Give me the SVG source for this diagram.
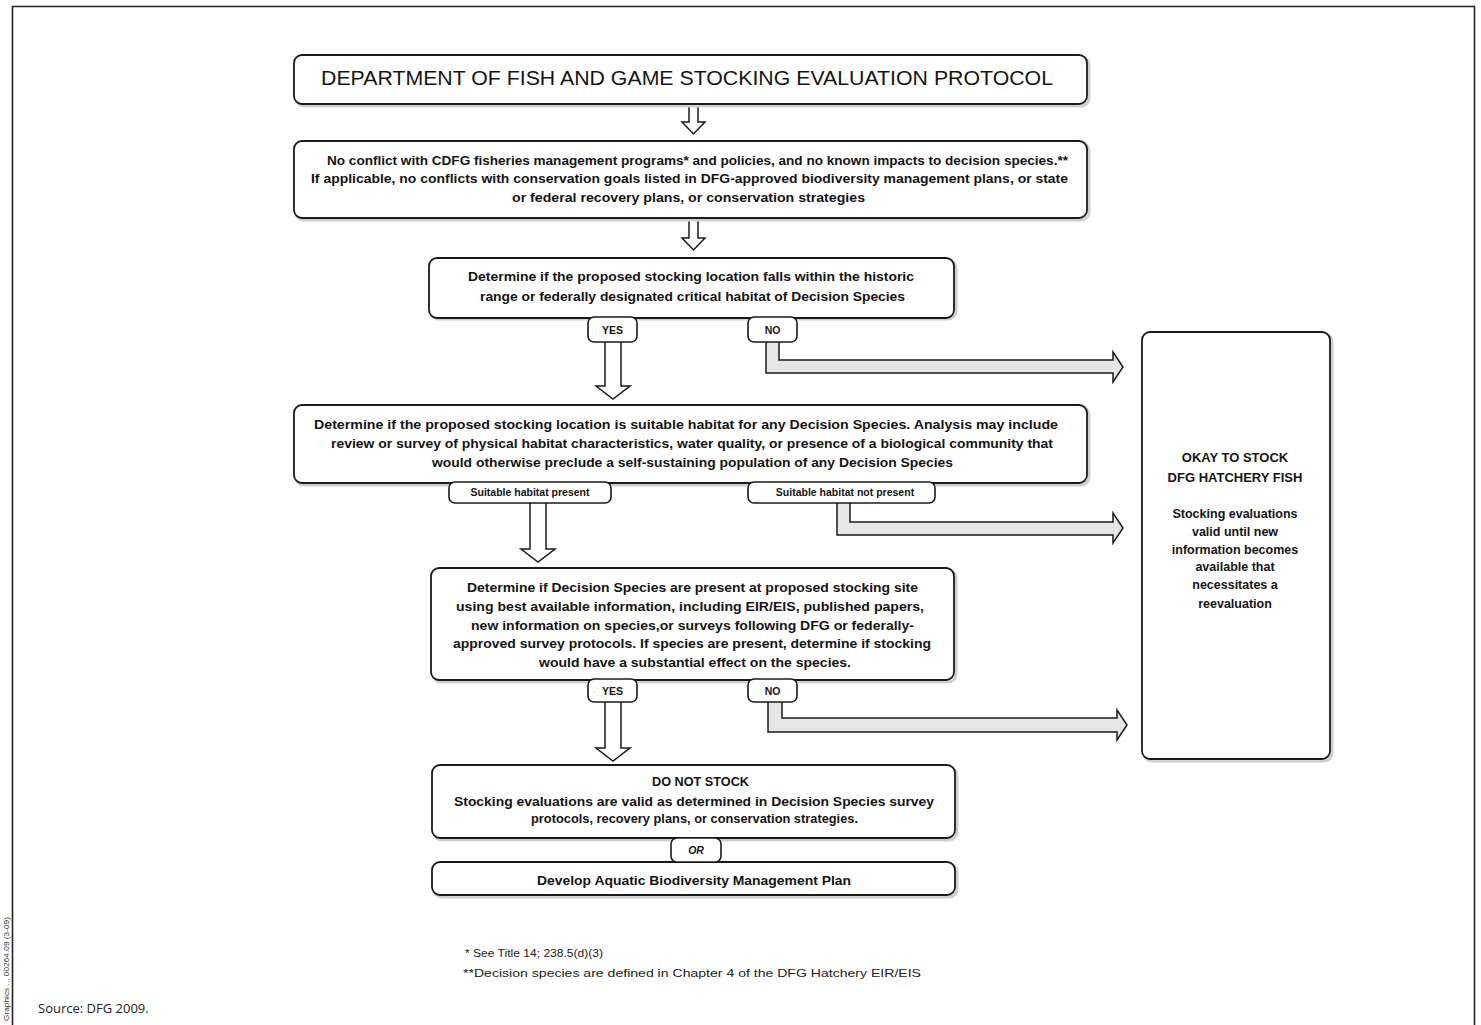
<svg xmlns="http://www.w3.org/2000/svg" width="1481" height="1025" viewBox="0 0 1481 1025">
<style>
.box{fill:#fff;stroke:#1a1a1a;stroke-width:1.8}
.shadow{fill:none;stroke:#cfcfcf;stroke-width:3}
.tab{fill:#fff;stroke:#1a1a1a;stroke-width:1.6}
.t{font-family:"Liberation Sans",Arial,sans-serif;font-weight:bold;font-size:12.5px;fill:#141414;text-anchor:middle}
.tt{font-family:"Liberation Sans",Arial,sans-serif;font-size:20px;fill:#141414;text-anchor:middle}
.tl{font-family:"Liberation Sans",Arial,sans-serif;font-weight:bold;font-size:10.5px;fill:#141414;text-anchor:middle}
.rb{font-family:"Liberation Sans",Arial,sans-serif;font-weight:bold;font-size:13px;fill:#141414;text-anchor:middle}
.fn{font-family:"Liberation Sans",Arial,sans-serif;font-size:11.5px;fill:#222}
.hollow{fill:#fff;stroke:#1a1a1a;stroke-width:1.5;stroke-linejoin:miter}
.gray{fill:#e6e6e6;stroke:#1a1a1a;stroke-width:1.5;stroke-linejoin:miter}
</style>
<rect width="1481" height="1025" fill="#fff"/>
<path d="M12.5,1025 V6.5 H1474.5 V1025" fill="none" stroke="#222" stroke-width="1.6"/>
<text transform="translate(8.5,1021) rotate(-90)" font-family="Liberation Sans,Arial,sans-serif" font-size="6.5" fill="#333" textLength="104" lengthAdjust="spacingAndGlyphs">Graphics ... 00264.09 (3-09)</text>

<g id="connectors">
  <path class="hollow" d="M689,105 V122 H682 L693.5,134 L705,122 H698 V105 Z"/>
  <path class="hollow" d="M689,220 V238 H682 L693.5,250 L705,238 H698 V220 Z"/>
  <path class="hollow" d="M605,341 V386 H596 L613,399 L630,386 H621 V341 Z"/>
  <path class="gray" d="M766,341 V373 H1113 V382 L1123,367 L1113,352 V360 H779 V341 Z"/>
  <path class="hollow" d="M530,502 V549 H521 L538,562 L555,549 H546 V502 Z"/>
  <path class="gray" d="M837,502 V535 H1113 V543 L1123,528 L1113,513 V522 H850 V502 Z"/>
  <path class="hollow" d="M605,701 V748 H596 L613,761 L630,748 H621 V701 Z"/>
  <path class="gray" d="M768,701 V732 H1117 V740 L1127,725 L1117,710 V718 H782 V701 Z"/>
</g>

<g id="title">
  <rect class="shadow" x="296" y="57" width="793" height="49" rx="8"/>
  <rect class="box" x="294" y="55" width="793" height="49" rx="8"/>
  <text class="tt" x="687" y="85" textLength="732" lengthAdjust="spacingAndGlyphs">DEPARTMENT OF FISH AND GAME STOCKING EVALUATION PROTOCOL</text>
</g>

<g id="no-conflict">
  <rect class="shadow" x="296" y="143" width="793" height="77" rx="8"/>
  <rect class="box" x="294" y="141" width="793" height="77" rx="8"/>
  <text class="t" x="697.5" y="164.5" textLength="741" lengthAdjust="spacingAndGlyphs">No conflict with CDFG fisheries management programs* and policies, and no known impacts to decision species.**</text>
  <text class="t" x="689.5" y="183" textLength="757" lengthAdjust="spacingAndGlyphs">If applicable, no conflicts with conservation goals listed in DFG-approved biodiversity management plans, or state</text>
  <text class="t" x="688.5" y="201.5" textLength="353" lengthAdjust="spacingAndGlyphs">or federal recovery plans, or conservation strategies</text>
</g>

<g id="historic-range">
  <rect class="shadow" x="431" y="260" width="525" height="59" rx="8"/>
  <rect class="box" x="429" y="258" width="525" height="60" rx="8"/>
  <text class="t" x="691" y="280.5" textLength="446" lengthAdjust="spacingAndGlyphs">Determine if the proposed stocking location falls within the historic</text>
  <text class="t" x="692.5" y="300.5" textLength="425" lengthAdjust="spacingAndGlyphs">range or federally designated critical habitat of Decision Species</text>
  <rect class="tab" x="588" y="317" width="49" height="25" rx="6"/>
  <text class="tl" x="612.5" y="334">YES</text>
  <rect class="tab" x="748" y="317" width="49" height="25" rx="6"/>
  <text class="tl" x="772.5" y="334">NO</text>
</g>

<g id="suitable-habitat">
  <rect class="shadow" x="296" y="407" width="793" height="78" rx="8"/>
  <rect class="box" x="294" y="405" width="793" height="78" rx="8"/>
  <text class="t" x="686" y="428.5" textLength="744" lengthAdjust="spacingAndGlyphs">Determine if the proposed stocking location is suitable habitat for any Decision Species.  Analysis may include</text>
  <text class="t" x="692" y="447.5" textLength="722" lengthAdjust="spacingAndGlyphs">review or survey of physical habitat characteristics, water quality, or presence of a biological community that</text>
  <text class="t" x="692.5" y="466.5" textLength="521" lengthAdjust="spacingAndGlyphs">would otherwise preclude a self-sustaining population of any Decision Species</text>
  <rect class="tab" x="449" y="482" width="162" height="21" rx="6"/>
  <text class="tl" x="530" y="496">Suitable habitat present</text>
  <rect class="tab" x="748" y="482" width="187" height="21" rx="6"/>
  <text class="tl" x="845" y="496">Suitable habitat not present</text>
</g>

<g id="species-present">
  <rect class="shadow" x="433" y="570" width="523" height="112" rx="8"/>
  <rect class="box" x="431" y="568" width="523" height="112" rx="8"/>
  <text class="t" x="692.5" y="591.5" textLength="451" lengthAdjust="spacingAndGlyphs">Determine if Decision Species are present at proposed stocking site</text>
  <text class="t" x="690" y="610.5" textLength="468" lengthAdjust="spacingAndGlyphs">using best available information, including EIR/EIS, published papers,</text>
  <text class="t" x="692.5" y="629.5" textLength="443" lengthAdjust="spacingAndGlyphs">new information on species,or surveys following DFG or federally-</text>
  <text class="t" x="692" y="647.5" textLength="478" lengthAdjust="spacingAndGlyphs">approved survey protocols. If species are present, determine if stocking</text>
  <text class="t" x="695" y="666.5" textLength="312" lengthAdjust="spacingAndGlyphs">would have a substantial effect on the species.</text>
  <rect class="tab" x="588" y="679" width="49" height="23" rx="6"/>
  <text class="tl" x="612.5" y="694.5">YES</text>
  <rect class="tab" x="748" y="679" width="49" height="23" rx="6"/>
  <text class="tl" x="772.5" y="694.5">NO</text>
</g>

<g id="do-not-stock">
  <rect class="shadow" x="434" y="767" width="523" height="73" rx="8"/>
  <rect class="box" x="432" y="765" width="523" height="73" rx="8"/>
  <text class="t" x="700.5" y="785.5" textLength="97" lengthAdjust="spacingAndGlyphs">DO NOT STOCK</text>
  <text class="t" x="694" y="805.5" textLength="480" lengthAdjust="spacingAndGlyphs">Stocking evaluations are valid as determined in Decision Species survey</text>
  <text class="t" x="694.5" y="822.5" textLength="327" lengthAdjust="spacingAndGlyphs">protocols, recovery plans, or conservation strategies.</text>
</g>

<g id="develop-plan">
  <rect class="shadow" x="434" y="864" width="523" height="33" rx="8"/>
  <rect class="box" x="432" y="862" width="523" height="33" rx="8"/>
  <text class="t" x="694" y="884.5" textLength="314" lengthAdjust="spacingAndGlyphs">Develop Aquatic Biodiversity Management Plan</text>
</g>

<g id="or-tab">
  <rect class="tab" x="671" y="838" width="50" height="24" rx="6"/>
  <text class="tl" x="696" y="854" font-style="italic">OR</text>
</g>

<g id="okay-to-stock">
  <rect class="shadow" x="1144" y="334" width="188" height="427" rx="8"/>
  <rect class="box" x="1142" y="332" width="188" height="427" rx="8"/>
  <text class="rb" x="1235" y="461.5">OKAY TO STOCK</text>
  <text class="rb" x="1235" y="481.5">DFG HATCHERY FISH</text>
  <text class="t" x="1235" y="517.5">Stocking evaluations</text>
  <text class="t" x="1235" y="535.5">valid until new</text>
  <text class="t" x="1235" y="553.5">information becomes</text>
  <text class="t" x="1235" y="570.5">available that</text>
  <text class="t" x="1235" y="588.5">necessitates a</text>
  <text class="t" x="1235" y="607.5">reevaluation</text>
</g>

<g id="footnotes">
  <text class="fn" x="465" y="957" textLength="138" lengthAdjust="spacingAndGlyphs">* See Title 14; 238.5(d)(3)</text>
  <text class="fn" x="463" y="977" textLength="458" lengthAdjust="spacingAndGlyphs">**Decision species are defined in Chapter 4 of the DFG Hatchery EIR/EIS</text>
</g>
<text x="38" y="1013" font-family="Open Sans,Noto Sans,sans-serif" font-size="13" fill="#222">Source: DFG 2009.</text>
</svg>
